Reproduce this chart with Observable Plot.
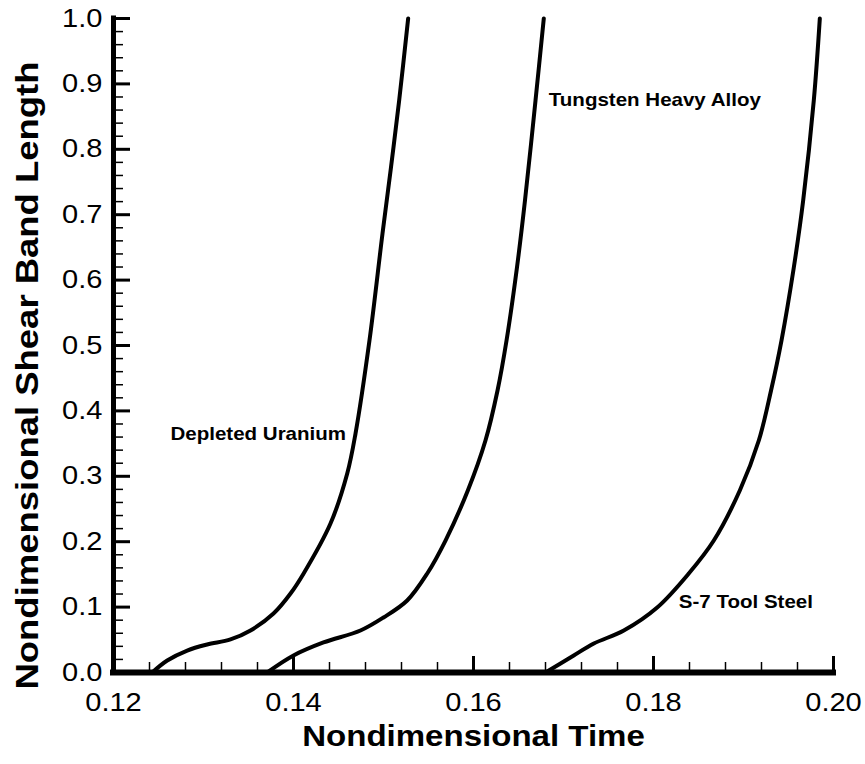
<!DOCTYPE html>
<html><head><meta charset="utf-8">
<script src="https://cdn.jsdelivr.net/npm/d3@7"></script>
<script src="https://cdn.jsdelivr.net/npm/@observablehq/plot@0.6"></script>
<style>body{margin:0;background:#fff}</style>
</head><body><div id="chart"></div>
<script>
// Depleted Uranium
const duT = [0.12430,0.12597,0.12819,0.13041,0.13300,0.13522,0.13778,0.13967,0.14111,0.14411,0.14597,0.14689,0.14844,0.14989,0.15083,0.15174,0.15274];
const duL = [0,0.0183,0.0336,0.0428,0.0505,0.0642,0.0902,0.1208,0.1511,0.2278,0.3043,0.3654,0.5076,0.6713,0.7722,0.8746,1.0];
// Tungsten Heavy Alloy
const thaT = [0.13708,0.14000,0.14333,0.14744,0.15000,0.15263,0.15486,0.15689,0.15937,0.16133,0.16267,0.16367,0.16483,0.16572,0.16689,0.16781];
const thaL = [0,0.0260,0.0459,0.0642,0.0841,0.1101,0.1514,0.2018,0.2783,0.3547,0.4312,0.5076,0.6193,0.7217,0.8746,1.0];
// S-7 Tool Steel
const s7T = [0.16800,0.16967,0.17114,0.17337,0.17670,0.18041,0.18392,0.18670,0.18959,0.19170,0.19306,0.19422,0.19559,0.19663,0.19781,0.19848];
const s7L = [0,0.0138,0.0260,0.0443,0.0642,0.0994,0.1514,0.2018,0.2783,0.3547,0.4312,0.5076,0.6193,0.7217,0.8746,1.0];

const seriesNames = ["Depleted Uranium","Tungsten Heavy Alloy","S-7 Tool Steel"];
const labelT = [0.12633,0.16837,0.18281];
const labelL = [0.365,0.875,0.107];

const xMajor = [0.12,0.14,0.16,0.18,0.20];
const xTickLabels = ["0.12","0.14","0.16","0.18","0.20"];
const yMajor = [0,0.1,0.2,0.3,0.4,0.5,0.6,0.7,0.8,0.9,1.0];
const yTickLabels = ["0.0","0.1","0.2","0.3","0.4","0.5","0.6","0.7","0.8","0.9","1.0"];
const xMinor = d3.range(0, 21).map(i => 0.12 + i*0.004).filter((d,i) => i % 5 !== 0);
const yMinor = d3.range(0, 51).map(i => i*0.02).filter((d,i) => i % 5 !== 0);

const rows = [];
[[duT,duL],[thaT,thaL],[s7T,s7L]].forEach(([T,L],k) => T.forEach((t,i) => rows.push({series: seriesNames[k], t, L: L[i]})));
const labels = seriesNames.map((name,i) => ({name, t: labelT[i], L: labelL[i]}));

const font = "'Liberation Sans', Arial, Helvetica, sans-serif";
const chart = Plot.plot({
  width: 865, height: 764,
  marginLeft: 113, marginRight: 32, marginTop: 18, marginBottom: 92,
  style: {fontFamily: font, background: "white", color: "black"},
  x: {domain: [0.12, 0.20]},
  y: {domain: [0, 1]},
  marks: [
    Plot.axisX(xMinor, {tickSize: -10, strokeWidth: 1.5, text: null, label: null}),
    Plot.axisX(xMajor, {tickSize: -16, strokeWidth: 3, text: null, label: null}),
    Plot.axisX(xMajor, {tickSize: 0, tickPadding: 20, tickFormat: d => xTickLabels[xMajor.indexOf(d)], fontSize: 25.5, label: null}),
    Plot.axisY(yMinor, {tickSize: -10, strokeWidth: 1.5, text: null, label: null}),
    Plot.axisY(yMajor, {tickSize: -17, strokeWidth: 3, text: null, label: null}),
    Plot.axisY(yMajor, {tickSize: 0, tickPadding: 11, tickFormat: d => yTickLabels[yMajor.indexOf(d)], fontSize: 25.5, label: null}),
    Plot.ruleY([0], {stroke: "black", strokeWidth: 6, strokeLinecap: "square"}),
    Plot.ruleX([0.12], {stroke: "black", strokeWidth: 5, strokeLinecap: "square"}),
    Plot.line(rows, {x: "t", y: "L", z: "series", stroke: "black", strokeWidth: 4, curve: "catmull-rom"}),
    Plot.text(labels, {x: "t", y: "L", text: "name", textAnchor: "start", fontSize: 18, fontWeight: "bold", fill: "black"}),
    Plot.text(["Nondimensional Time"], {frameAnchor: "bottom", textAnchor: "middle", lineAnchor: "middle", dy: 64, fontSize: 29, fontWeight: "bold", fill: "black"}),
    Plot.text(["Nondimensional Shear Band Length"], {frameAnchor: "left", textAnchor: "middle", lineAnchor: "middle", rotate: -90, dx: -86, dy: 30, fontSize: 32, fontWeight: "bold", fill: "black"})
  ]
});
// widen glyphs slightly to match the reference's font proportions
chart.querySelectorAll("text").forEach(t => {
  const tr = t.getAttribute("transform") || "";
  t.setAttribute("transform", (tr + " scale(1.14,1)").trim());
});
document.getElementById("chart").appendChild(chart);
</script>
</body></html>
